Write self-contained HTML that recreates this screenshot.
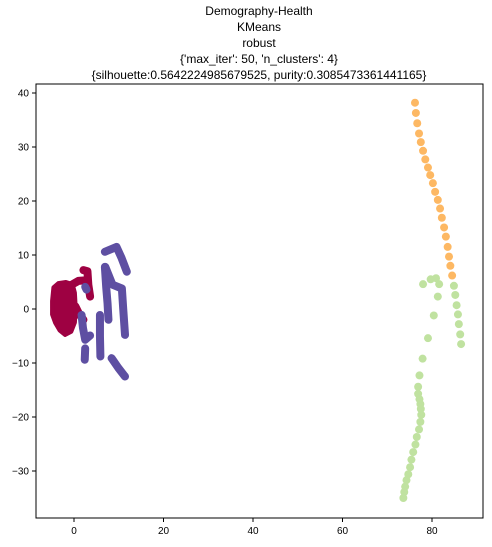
<!DOCTYPE html>
<html><head><meta charset="utf-8"><style>
body{margin:0;background:#fff;font-family:"Liberation Sans",sans-serif}
svg text{font-family:"Liberation Sans",sans-serif}
</style></head><body>
<svg id="chart" width="492" height="542">
<g font-size="12" text-anchor="middle" fill="#000">
<text x="259" y="15">Demography-Health</text>
<text x="259" y="31">KMeans</text>
<text x="259" y="47">robust</text>
<text x="259" y="63">{'max_iter': 50, 'n_clusters': 4}</text>
<text x="259" y="79">{silhouette:0.5642224985679525, purity:0.3085473361441165}</text>
</g>
<g id="marks"></g>
<rect x="36" y="84" width="447" height="434" fill="none" stroke="#000" stroke-width="1"/>
<g id="axes"></g>
</svg>
<script>
const xTicks=[0,20,40,60,80];
const yTicks=[-30,-20,-10,0,10,20,30,40];
const orangeX=[76.2,76.4,76.7,77.1,77.5,78.0,78.5,79.1,79.6,80.2,80.7,81.3,81.8,82.2,82.7,83.1,83.5,83.8,84.1,84.5];
const orangeY=[38.2,36.3,34.4,32.5,30.9,29.3,27.7,26.2,24.8,23.3,21.7,20.2,18.6,16.9,15.1,13.4,11.5,9.7,8.0,6.2];
const greenX=[84.9,85.2,85.5,85.8,86.0,86.3,86.5,78.0,79.7,80.9,81.6,81.3,80.4,79.1,77.9,77.2,76.9,76.9,77.2,77.4,77.5,77.6,77.4,77.1,76.6,76.3,75.8,75.4,75.1,74.7,74.3,74.0,73.8,73.6];
const greenY=[4.3,2.6,0.7,-1.0,-2.8,-4.7,-6.5,4.6,5.5,5.7,4.6,2.3,-1.2,-5.4,-9.2,-12.3,-14.4,-15.7,-16.7,-17.6,-18.5,-19.6,-20.9,-22.3,-23.7,-25.1,-26.5,-27.9,-29.3,-30.6,-31.7,-32.9,-33.9,-35.0];
// red blob outline (data units)
const redBlob=[[-4.6,4.0],[-3.5,4.8],[-1.8,5.0],[-0.3,4.6],[0.2,3],[0.4,0],[0.2,-2.5],[-0.6,-4.2],[-2.0,-4.8],[-3.2,-4.0],[-4.2,-2.6],[-4.9,-1.0],[-4.9,1.5]];
const redStrokes=[
 [[2.1,7.2],[3.0,7.0],[3.2,4.5],[3.6,2.3]],
 [[-0.5,4.5],[1.0,5.2],[2.5,5.3]],
 [[0.3,0.5],[1.2,-1.0],[2.1,-2.0]]
];
const blueStrokes=[
 [[6.9,10.6],[9.5,11.5],[10.6,9.5],[11.8,6.9]],
 [[6.9,7.8],[7.2,4],[7.5,1],[7.7,-2.0]],
 [[7.0,7.8],[8.6,4.5],[10.7,3.8],[11.0,0],[11.4,-4.8]],
 [[5.8,-1.1],[5.8,-5],[5.9,-8.8]],
 [[8.4,-9.1],[9.9,-10.9],[11.4,-12.5]],
 [[2.5,4.1],[2.8,3.6]],
 [[1.7,-1.1],[2.0,-3.5],[2.5,-5.7],[3.6,-4.9]],
 [[2.5,-7.3],[2.4,-9.4]]
];
const X=v=>74+v*4.475, Y=v=>309-v*5.4;
const NS="http://www.w3.org/2000/svg";
const marks=document.getElementById('marks'), axes=document.getElementById('axes');
function mk(t,a,p){const e=document.createElementNS(NS,t);for(const k in a)e.setAttribute(k,a[k]);p.appendChild(e);return e;}
let blob=mk('polygon',{points:redBlob.map(p=>X(p[0])+','+Y(p[1])).join(' '),fill:'#9e0142',stroke:'#9e0142','stroke-width':4,'stroke-linejoin':'round'},marks);


redStrokes.forEach(s=>{const e=mk('polyline',{points:s.map(p=>X(p[0])+','+Y(p[1])).join(' '),fill:'none',stroke:'#9e0142','stroke-width':8,'stroke-linecap':'round','stroke-linejoin':'round'},marks);

});
blueStrokes.forEach(s=>{const e=mk('polyline',{points:s.map(p=>X(p[0])+','+Y(p[1])).join(' '),fill:'none',stroke:'#5e4fa2','stroke-width':8,'stroke-linecap':'round','stroke-linejoin':'round'},marks);

});
orangeX.forEach((v,i)=>{const e=mk('circle',{cx:X(v),cy:Y(orangeY[i]),r:4,fill:'#fdb863'},marks);

});
greenX.forEach((v,i)=>{const e=mk('circle',{cx:X(v),cy:Y(greenY[i]),r:4,fill:'#c0e2a0'},marks);

});
xTicks.forEach(t=>{const x=X(t);mk('line',{x1:x,x2:x,y1:518,y2:522,stroke:'#000'},axes);
const e=mk('text',{x:x,y:534,'font-size':10,'text-anchor':'middle'},axes);e.textContent=t;

});
yTicks.forEach(t=>{const y=Y(t);mk('line',{x1:32,x2:36,y1:y,y2:y,stroke:'#000'},axes);
const e=mk('text',{x:29,y:y+3.5,'font-size':10,'text-anchor':'end'},axes);e.textContent=t<0?'\u2212'+(-t):t;

});
</script>
</body></html>
